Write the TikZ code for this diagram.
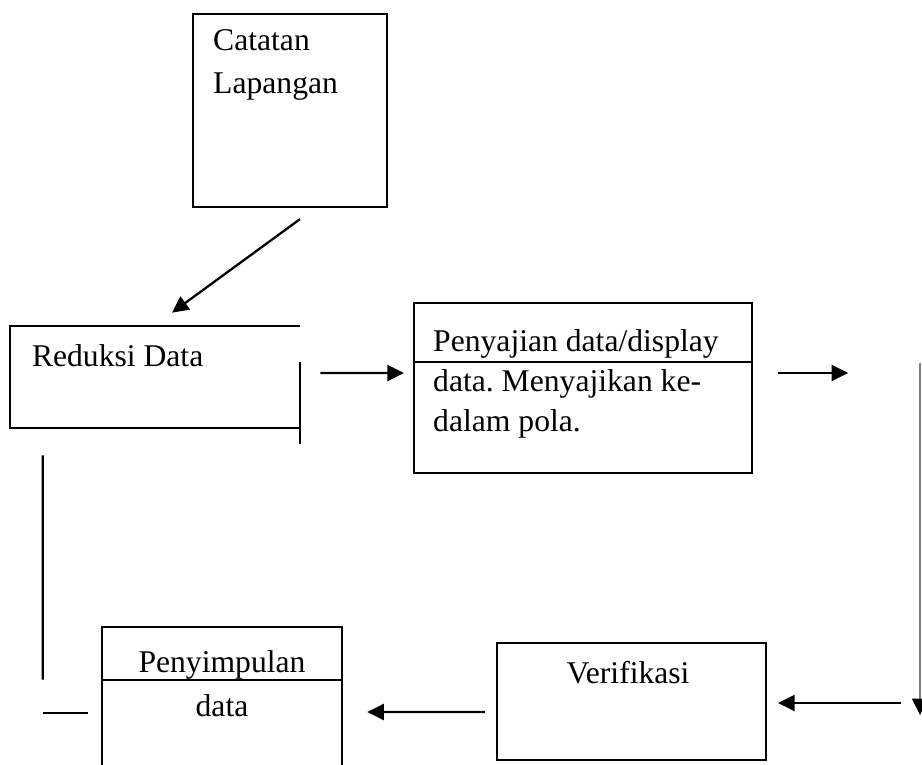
\documentclass[tikz,border=0pt]{standalone}
\usepackage{fontspec}
\setmainfont{Liberation Serif}
\usetikzlibrary{arrows.meta, positioning}
\tikzstyle{box} = [rectangle, draw=black, line width=1.3pt, inner sep=0pt]
\tikzstyle{frame} = [rectangle, inner sep=0pt]
\tikzstyle{txt} = [inner sep=0pt, font=\fontsize{18}{24.5}\selectfont]
\tikzstyle{arrow} = [-{Triangle[length=0.33cm, width=0.32cm]}, line width=1.3pt]
\tikzstyle{edgeline} = [line width=1.3pt]
\frenchspacing

\begin{document}
\begin{tikzpicture}[x=0.02cm, y=-0.02cm]
		
		% canvas of the page
		\useasboundingbox (0,0) rectangle (922,764);
		
		\node[box, minimum width=3.88cm, minimum height=3.86cm] (cat) at (290,110.5) {};
		\node[txt, anchor=north west, align=left] (cattxt) at ([xshift=0.42cm, yshift=-0.32cm]cat.north west) {Catatan\\Lapangan};
		
		\node[frame, minimum width=5.8cm, minimum height=2.04cm] (red) at (155,377) {};
		\node[txt, anchor=north west] (redtxt) at ([xshift=0.44cm, yshift=-0.38cm]red.north west) {Reduksi Data};
		\draw[edgeline] (red.north east) -- (red.north west) -- (red.south west) -- (red.south east);
		\draw[edgeline] ([yshift=-0.72cm]red.north east) -- ([yshift=-0.32cm]red.south east);
		
		\node[box, minimum width=6.76cm, minimum height=3.4cm] (pen) at (583,388) {};
		\draw[edgeline] ([yshift=-1.2cm]pen.north west) -- ([yshift=-1.2cm]pen.north east);
		\node[txt, anchor=north west, align=left, font=\fontsize{18}{22.8}\selectfont] (pentxt) at ([xshift=0.4cm, yshift=-0.54cm]pen.north west) {Penyajian data/display\\data. Menyajikan ke-\\dalam pola.};
		
		\node[box, minimum width=5.38cm, minimum height=2.34cm] (ver) at (631.5,701.5) {};
		\node[txt, anchor=north] (vertxt) at ([xshift=-0.07cm, yshift=-0.38cm]ver.north) {Verifikasi};
		
		\node[frame, minimum width=4.8cm, minimum height=2.88cm] (simp) at (222,699) {};
		\draw[edgeline] (simp.south west) -- (simp.north west) -- (simp.north east) -- (simp.south east);
		\draw[edgeline] ([yshift=-1.06cm]simp.north west) -- ([yshift=-1.06cm]simp.north east);
		\node[txt, anchor=north, align=center] (simptxt) at ([yshift=-0.48cm]simp.north) {Penyimpulan\\data};
		
		\coordinate (rtop) at (920,363);
		\coordinate (rbot) at (920,715);
		
		\draw[arrow] ([xshift=0.2cm, yshift=-0.22cm]cat.south) -- ([xshift=0.34cm, yshift=0.26cm]red.north);
		\draw[arrow] ([xshift=0.4cm, yshift=0.08cm]red.east) -- ([xshift=-0.18cm, yshift=0.3cm]pen.west);
		\draw[arrow] ([xshift=0.5cm, yshift=0.3cm]pen.east) -- ([xshift=1.9cm, yshift=0.3cm]pen.east);
		\draw[-{Triangle[length=0.33cm, width=0.32cm, black]}, gray, line width=0.6pt] (rtop) -- (rbot);
		\draw[arrow] ([xshift=2.68cm, yshift=-0.03cm]ver.east) -- ([xshift=0.22cm, yshift=-0.03cm]ver.east);
		\draw[arrow] ([xshift=-0.22cm, yshift=-0.21cm]ver.west) -- ([xshift=0.5cm, yshift=-0.26cm]simp.east);
		
		\draw[edgeline] ([xshift=0.66cm, yshift=-0.54cm]red.south west) -- ([xshift=-1.18cm, yshift=-1.06cm]simp.north west);
		\draw[edgeline] ([xshift=-1.18cm, yshift=-0.28cm]simp.west) -- ([xshift=-0.28cm, yshift=-0.28cm]simp.west);
		
	\end{tikzpicture}
\end{document}
